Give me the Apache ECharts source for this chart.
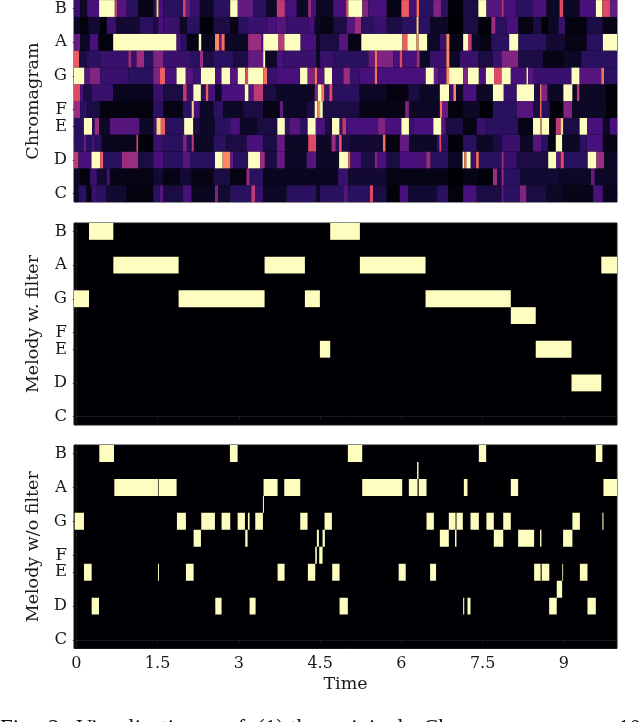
<!DOCTYPE html>
<html><head><meta charset="utf-8">
<style>html,body{margin:0;padding:0;background:#fff}#c{width:640px;height:722px}</style>
<script src="https://cdn.jsdelivr.net/npm/echarts@6/dist/echarts.min.js"></script>
</head><body><div id="c"></div>
<script>
const noteNames={0:'C',2:'D',4:'E',5:'F',7:'G',9:'A',11:'B'};
const noteTicks=[0,2,4,5,7,9,11];
const timeTicks=[0,1.5,3,4.5,6,7.5,9];
const tMin=-0.043,tMax=9.98;
// Chromagram: per pitch, runs [start time, energy] lasting until the next run
const chromaC=[[-0.043,.1],[.04,.2],[.19,.05],[.28,.25],[.38,.2],[.56,.12],[.93,.03],[1.42,.2],[1.54,.35],[1.61,.15],[1.97,.3],[2.13,.08],[2.56,.45],[2.62,.12],[2.84,.2],[3.23,.55],[3.3,.25],[3.45,.1],[3.88,.2],[4.43,.1],[4.5,.2],[4.93,.35],[5.02,.2],[5.42,.6],[5.48,.15],[5.73,.02],[5.97,.3],[6.13,.12],[6.65,.2],[6.86,.03],[7.14,.3],[7.39,.15],[7.85,.4],[7.89,.2],[8.19,.45],[8.31,.15],[8.68,.1],[8.99,.06],[9.54,.3],[9.72,.08]];
const chromaCs=[[-0.043,.1],[.07,.03],[.25,.25],[.38,.12],[.56,.3],[.62,.05],[1.42,.12],[1.61,.05],[1.91,.12],[2.13,.05],[2.53,.15],[2.84,.05],[3.14,.5],[3.2,.2],[3.45,.08],[4.83,.25],[5.02,.12],[5.73,.05],[6.86,0],[7.14,.05],[7.42,.02],[7.69,.5],[7.77,.15],[7.85,.5],[7.89,.2],[8.19,.12],[8.92,.1],[9.5,.4],[9.57,.1]];
const chromaD=[[-0.043,.55],[.04,.3],[.28,1],[.44,.65],[.5,.2],[.84,.5],[1.14,.15],[1.42,.3],[1.61,.2],[1.97,.35],[2.1,.2],[2.56,1],[2.7,.75],[2.84,.4],[2.9,.2],[3.17,1],[3.39,.5],[3.48,.15],[3.7,.4],[3.85,.1],[4.25,.35],[4.43,.1],[4.85,1],[5.02,.65],[5.06,.3],[5.26,.15],[5.51,.45],[5.55,.3],[5.73,.15],[5.97,.3],[6.46,.5],[6.54,.2],[6.86,.1],[7.13,1],[7.16,.7],[7.2,1],[7.28,.25],[7.38,.7],[7.43,.2],[7.85,.5],[7.89,.25],[8.13,.15],[8.71,1],[8.86,.35],[8.94,.6],[9.0,.2],[9.44,1],[9.6,.5],[9.74,.1]];
const chromaDs=[[-0.043,.2],[.13,.4],[.18,.2],[.28,.3],[.34,.2],[.47,.07],[1.11,.6],[1.14,.02],[1.42,.25],[1.61,.2],[1.97,.45],[2.04,.2],[2.13,.55],[2.17,.1],[2.53,.2],[2.77,.15],[3.14,.3],[3.45,.15],[3.7,.4],[3.85,.1],[4.28,.6],[4.43,.1],[4.71,.5],[4.79,.2],[4.85,.65],[4.9,.15],[5.05,.12],[5.66,.7],[5.71,.03],[5.97,.4],[6.14,.1],[6.65,.2],[6.7,.6],[6.74,.2],[6.86,.02],[7.14,.2],[7.39,.1],[7.69,.15],[7.85,.25],[8.19,.1],[8.43,.35],[8.59,.2],[8.71,.03],[8.85,1],[8.97,.1],[9.29,.2],[9.42,.3],[9.72,.05]];
const chromaE=[[-0.043,.2],[.14,1],[.29,.2],[.34,.5],[.42,.1],[.62,.35],[1.17,.1],[1.42,.3],[1.48,.9],[1.56,.65],[1.64,.2],[1.99,1],[2.16,.15],[2.28,.1],[2.56,.2],[2.84,.3],[3.02,.1],[3.33,.15],[3.71,1],[3.85,.2],[3.93,.35],[4.13,.2],[4.27,1],[4.42,.3],[4.59,.15],[4.72,1],[4.86,.25],[4.91,.55],[4.98,.3],[5.57,.45],[5.71,.3],[6.0,1],[6.14,.25],[6.22,.3],[6.59,1],[6.74,.35],[6.82,.15],[7.14,.05],[7.39,.25],[7.57,.2],[8.16,.05],[8.43,1],[8.57,.7],[8.59,1],[8.73,.05],[8.85,.55],[8.94,.9],[8.99,.15],[9.29,1],[9.43,.3],[9.72,.1],[9.85,.3]];
const chromaF=[[-0.043,.5],[.07,.2],[.2,.15],[.44,.03],[1.42,.2],[1.61,.05],[1.97,.2],[2.13,.9],[2.17,.3],[2.28,.1],[2.53,.2],[2.71,.1],[3.08,.15],[3.45,.05],[3.76,.4],[3.82,.1],[4.25,.15],[4.4,1],[4.45,.75],[4.5,1],[4.55,.15],[5.23,.05],[6.07,.45],[6.14,.1],[6.71,.7],[6.75,.4],[6.86,.03],[7.14,.1],[7.45,.01],[7.69,.2],[8.13,.35],[8.43,.15],[8.56,.7],[8.59,.2],[8.74,.02],[8.99,.45],[9.15,.1],[9.78,.01]];
const chromaFs=[[-0.043,.6],[.07,.3],[.13,.15],[.28,.25],[.68,.08],[1.42,.25],[1.61,.15],[1.97,.55],[2.04,.25],[2.16,1],[2.3,.2],[2.39,.65],[2.44,.3],[2.56,.1],[2.68,.3],[3.11,1],[3.18,.35],[3.27,.55],[3.45,.15],[3.7,.1],[4.4,.45],[4.46,1],[4.53,.7],[4.58,.25],[4.67,.6],[4.73,.2],[5.23,.1],[5.73,.03],[6.13,.15],[6.34,.1],[6.71,1],[6.88,.25],[6.96,.75],[7.01,.1],[7.14,.3],[7.39,.1],[7.69,1],[7.89,.25],[8.13,1],[8.45,.15],[8.56,.75],[8.59,.45],[8.7,.1],[8.99,1],[9.16,.1],[9.24,.55],[9.29,.1],[9.78,.02]];
const chromaG=[[-0.043,1],[.15,.35],[.25,.45],[.44,.25],[.96,.2],[1.42,.45],[1.54,.65],[1.64,.3],[1.85,1],[2.02,.35],[2.16,.25],[2.3,1],[2.56,.3],[2.68,1],[2.84,.35],[2.98,1],[3.12,.6],[3.17,1],[3.45,.7],[3.52,.25],[3.7,.3],[4.13,1],[4.27,.45],[4.4,.7],[4.45,.35],[4.58,1],[4.72,.25],[4.93,.5],[5.05,.25],[5.23,.3],[5.51,.7],[5.55,.3],[6.45,1],[6.6,.4],[6.68,.3],[6.83,.75],[6.88,1],[7.14,.45],[7.23,1],[7.43,.3],[7.56,1],[7.71,.6],[7.85,1],[8.02,.3],[8.31,.95],[8.34,.35],[8.43,.25],[9.14,1],[9.29,.35],[9.69,.7],[9.74,.2]];
const chromaGs=[[-0.043,.65],[.05,.15],[.19,.2],[.44,.25],[.96,.5],[1.02,.25],[1.11,.5],[1.25,.2],[1.42,.45],[1.61,.25],[2.1,.2],[2.28,.5],[2.34,.15],[2.53,.2],[2.9,.15],[3.17,.4],[3.45,1],[3.49,.1],[3.7,.3],[3.82,.25],[4.43,.1],[4.5,.25],[4.74,.2],[5.39,.4],[5.51,.7],[5.55,.45],[5.85,.3],[5.97,.6],[6.02,.3],[6.28,.5],[6.34,.1],[6.53,.25],[6.83,.75],[6.89,.1],[7.08,.25],[7.42,.15],[7.69,.25],[7.85,.45],[8.16,.15],[8.62,.05],[8.99,.1],[9.32,.2]];
const chromaA=[[-0.043,.4],[.07,.1],[.25,.3],[.41,.03],[.68,1],[1.85,.3],[1.94,.2],[2.04,.05],[2.26,1],[2.31,.08],[2.56,.75],[2.64,.4],[2.68,.7],[2.74,.1],[3.17,.5],[3.42,.3],[3.45,1],[3.73,.55],[3.84,1],[4.14,.3],[4.43,.1],[4.5,.15],[4.85,.35],[5.02,.05],[5.26,1],[6.02,.65],[6.11,1],[6.28,.75],[6.32,1],[6.48,.1],[6.71,.25],[6.83,.75],[6.89,.05],[7.14,1],[7.23,.55],[7.3,.1],[7.45,.05],[7.66,.2],[7.99,1],[8.16,.2],[8.68,.12],[9.02,.05],[9.42,.2],[9.72,1]];
const chromaAs=[[-0.043,.1],[.07,.03],[.22,.12],[.44,.02],[.56,.25],[.74,.12],[1.17,.2],[1.42,.15],[1.51,.3],[1.61,.25],[1.91,.1],[2.04,.2],[2.28,.02],[2.53,.15],[2.84,.05],[2.99,.2],[3.17,.25],[3.51,.3],[3.7,.35],[3.88,.25],[4.28,.3],[4.4,.1],[4.5,.05],[4.74,.15],[4.99,.35],[5.14,.5],[5.26,.2],[5.48,.25],[5.73,.15],[6.0,.2],[6.28,.9],[6.32,.2],[6.53,.1],[6.86,0],[7.14,.15],[7.42,.02],[7.66,.5],[7.74,.2],[7.94,.3],[8.16,.05],[8.43,.15],[8.59,.01],[8.71,.1],[8.9,.25],[9.02,.03],[9.42,.15],[9.72,.05]];
const chromaB=[[-0.043,.25],[.07,.1],[.2,.3],[.42,1],[.71,.55],[.76,.35],[.93,.2],[1.14,.05],[1.42,.2],[1.48,.9],[1.52,.3],[1.61,.2],[1.97,.6],[2.02,.4],[2.1,.25],[2.28,.1],[2.53,.2],[2.84,1],[2.98,.4],[3.27,.2],[3.51,.1],[3.7,.55],[3.85,.3],[4.07,.1],[4.28,.5],[4.34,.3],[4.43,.1],[4.74,.3],[4.98,.6],[5.02,1],[5.28,.45],[5.39,.3],[5.73,.05],[6.0,.65],[6.14,.3],[6.28,.7],[6.33,.2],[6.59,.45],[6.74,.2],[6.86,.02],[7.14,.15],[7.42,1],[7.57,.35],[7.85,.55],[7.89,.3],[8.12,.2],[8.43,.3],[8.68,.1],[8.92,.6],[8.99,.1],[9.29,.3],[9.59,1],[9.71,.6],[9.85,.4]];
const chromaRows=[chromaC,chromaCs,chromaD,chromaDs,chromaE,chromaF,chromaFs,chromaG,chromaGs,chromaA,chromaAs,chromaB];
// Melody with filter: [pitch, start, end]
const melodyFiltered=[[7,-0.043,.234],[11,.234,.683],[9,.683,1.888],[7,1.888,3.475],[9,3.475,4.219],[7,4.219,4.496],[4,4.496,4.686],[11,4.686,5.234],[9,5.234,6.446],[7,6.446,8.02],[6,8.02,8.48],[4,8.48,9.14],[2,9.14,9.69],[9,9.69,9.98]];
// Melody without filter: per pitch, [start, end]
const rawB=[[.424,.695],[2.835,2.977],[5.012,5.277],[7.43,7.565],[9.589,9.71]];
const rawAs=[[6.29,6.316]];
const rawA=[[.701,1.507],[1.519,1.851],[3.456,3.715],[3.838,4.133],[5.277,6.015],[6.138,6.298],[6.32,6.464],[7.153,7.22],[8.02,8.155],[9.73,9.98]];
const rawGs=[[3.444,3.463]];
const rawG=[[-0.03,.141],[1.857,2.023],[2.306,2.558],[2.681,2.841],[2.977,3.112],[3.167,3.198],[3.303,3.444],[4.133,4.268],[4.582,4.717],[6.464,6.6],[6.876,7.0],[7.017,7.134],[7.276,7.43],[7.57,7.706],[7.88,8.02],[9.157,9.295],[9.71,9.73]];
const rawFs=[[2.165,2.3],[3.118,3.161],[4.44,4.477],[4.545,4.588],[6.71,6.876],[6.99,7.017],[7.706,7.88],[8.155,8.45],[8.56,8.585],[8.985,9.157]];
const rawF=[[4.41,4.44],[4.483,4.545]];
const rawE=[[.141,.283],[1.507,1.525],[2.023,2.165],[3.715,3.844],[4.274,4.41],[4.723,4.859],[5.95,6.08],[6.53,6.64],[8.45,8.57],[8.59,8.73],[8.97,8.985],[9.295,9.435]];
const rawDs=[[8.868,8.967]];
const rawD=[[.283,.418],[2.565,2.681],[3.198,3.309],[4.859,5.012],[7.14,7.16],[7.22,7.276],[8.727,8.868],[9.435,9.589]];
const rawRows={11:rawB,10:rawAs,9:rawA,8:rawGs,7:rawG,6:rawFs,5:rawF,4:rawE,3:rawDs,2:rawD};
const magma=['#000004','#0c0826','#2a1160','#47107a','#641a80','#9a2d80','#de4968','#f7705c','#fe9f6d','#fecf92','#fcfdbf'];

const chromaData=[];
chromaRows.forEach((row,p)=>row.forEach((r,i)=>{
  const end=i+1<row.length?row[i+1][0]:tMax;
  chromaData.push([r[0],end,p,r[1]]);
}));
const filteredData=melodyFiltered.map(m=>[m[1],m[2],m[0],1]);
const rawData=[];
Object.keys(rawRows).forEach(p=>rawRows[p].forEach(s=>rawData.push([s[0],s[1],+p,1])));

const ink='#1a1a1a';
const serif='"DejaVu Serif"';
function rect(params,api){
  const a=api.coord([api.value(0),api.value(2)+.5]);
  const b=api.coord([api.value(1),api.value(2)-.5]);
  return {type:'rect',shape:{x:a[0],y:a[1],width:b[0]-a[0],height:b[1]-a[1]},
    style:{fill:api.visual('color')}};
}
const boxes=[{top:0,height:202,name:'Chromagram',data:chromaData},
             {top:223,height:202,name:'Melody w. filter',data:filteredData},
             {top:445,height:203.5,name:'Melody w/o filter',data:rawData}];
const captionWords=[['Fig.',0],['2:',48],['Visualization',76],['of',226],['(1)',257],['the',290],['original',332],['Chromagram,',423],['10',618]];
const option={
  animation:false,
  grid:boxes.map(b=>({left:74,width:543,top:b.top,height:b.height,show:true,backgroundColor:'#000004',borderColor:ink,borderWidth:1})),
  xAxis:boxes.map((b,i)=>({type:'value',gridIndex:i,min:tMin,max:tMax,
    name:i==2?'Time':'',nameLocation:'middle',nameGap:27,
    nameTextStyle:{fontFamily:serif,fontSize:17.5,color:ink},
    splitLine:{show:false},
    axisLine:{show:true,lineStyle:{color:ink,width:1}},
    axisTick:{show:true,length:3.5,customValues:timeTicks,lineStyle:{color:ink}},
    axisLabel:{show:i==2,customValues:timeTicks,margin:7,fontFamily:serif,fontSize:16,color:ink}})),
  yAxis:boxes.map((b,i)=>({type:'value',gridIndex:i,min:-0.5,max:11.5,
    name:b.name,nameLocation:'middle',nameGap:28,
    nameTextStyle:{fontFamily:serif,fontSize:17.5,color:ink},
    splitLine:{show:false},
    axisLine:{show:true,lineStyle:{color:ink,width:1}},
    axisTick:{show:true,length:3.5,customValues:noteTicks,lineStyle:{color:ink}},
    axisLabel:{customValues:noteTicks,margin:7,fontFamily:serif,fontSize:16.5,color:ink,formatter:v=>noteNames[v]||''}})),
  visualMap:{show:false,type:'continuous',min:0,max:1,dimension:3,seriesIndex:[0,1,2],inRange:{color:magma}},
  series:boxes.map((b,i)=>({type:'custom',xAxisIndex:i,yAxisIndex:i,clip:true,
    data:b.data,encode:{x:[0,1],y:2},renderItem:rect})),
  graphic:captionWords.map(w=>({type:'text',x:w[1],y:717,style:{text:w[0],font:'23px "Liberation Serif"',fill:'#111'}}))
};
echarts.init(document.getElementById('c'),null,{renderer:'canvas'}).setOption(option);
</script></body></html>
